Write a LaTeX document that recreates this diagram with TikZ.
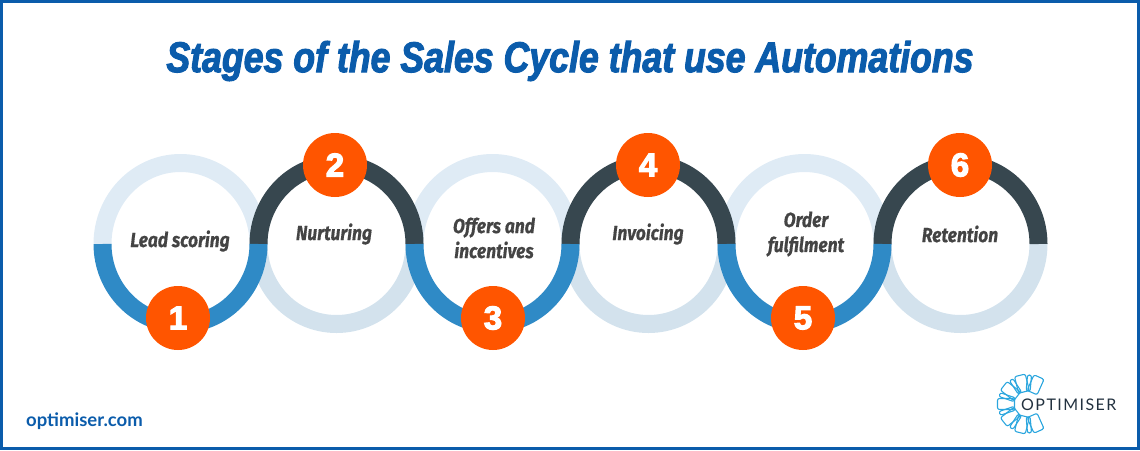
\documentclass[tikz,border=0pt]{standalone}
\usepackage{fontspec}
\usepackage{xcolor}
\usetikzlibrary{calc}
\setmainfont{Liberation Sans}
\newfontfamily\titlefont[FakeStretch=0.83,FakeBold=2.4]{Liberation Sans}
\newfontfamily\numfont[FakeBold=3.5]{Liberation Sans}
\newfontfamily\labelfont[FakeStretch=0.85,FakeBold=0.5]{Fira Sans}
\newfontfamily\webfont{Lato}
\newfontfamily\brandfont[LetterSpace=9]{Lato}
\definecolor{frameblue}{HTML}{0B5CAB}
\definecolor{lightring}{HTML}{DFEBF5}
\definecolor{paleblue}{HTML}{D3E2ED}
\definecolor{darkring}{HTML}{37474F}
\definecolor{midblue}{HTML}{2F8AC6}
\definecolor{badge}{HTML}{FF5500}
\definecolor{labeltext}{HTML}{444444}
\definecolor{petal}{HTML}{2BA6DE}
\definecolor{logotext}{HTML}{22313F}
\tikzset{
  ringarc/.style = {line width=18pt},
  numbadge/.style = {circle, fill=badge, text=white, minimum size=64pt, inner sep=0pt, font=\numfont\bfseries\fontsize{33}{33}\selectfont},
  stagelabel/.style = {text=labeltext, align=center, font=\labelfont\itshape\bfseries\fontsize{20.5}{25}\selectfont},
  petalbox/.style = {draw=petal, line width=1.1pt, rounded corners=2pt, minimum width=11pt, minimum height=17pt, inner sep=0pt}
}
\begin{document}
\begin{tikzpicture}[x=1pt, y=-1pt]
        \useasboundingbox (0,0) rectangle (1140,450);
        \draw[frameblue, line width=3pt] (1.5,1.5) rectangle (1138.5,448.5);
        \node[text=frameblue, font=\titlefont\bfseries\itshape\fontsize{43}{44}\selectfont] (title) at (570,61) {Stages of the Sales Cycle that use Automations};
        % pale halves first, they run under the strong ones
        \begin{scope}[ringarc]
            \draw[lightring] (102.5,244) arc[start angle=180, end angle=360, x radius=78, y radius=81];
            \draw[lightring] (414.5,244) arc[start angle=180, end angle=360, x radius=78, y radius=81];
            \draw[lightring] (726.5,244) arc[start angle=180, end angle=360, x radius=78, y radius=81];
            \draw[paleblue] (258.5,244) arc[start angle=180, end angle=0, x radius=78, y radius=80];
            \draw[paleblue] (570.5,244) arc[start angle=180, end angle=0, x radius=78, y radius=80];
            \draw[paleblue] (882.5,244) arc[start angle=180, end angle=0, x radius=78, y radius=80];
            \draw[darkring] (258.5,244) arc[start angle=180, end angle=360, x radius=78, y radius=80];
            \draw[darkring] (570.5,244) arc[start angle=180, end angle=360, x radius=78, y radius=80];
            \draw[darkring] (882.5,244) arc[start angle=180, end angle=360, x radius=78, y radius=80];
            \draw[midblue] (102.5,244) arc[start angle=180, end angle=0, x radius=78, y radius=80];
            \draw[midblue] (414.5,244) arc[start angle=180, end angle=0, x radius=78, y radius=80];
            \draw[midblue] (726.5,244) arc[start angle=180, end angle=0, x radius=78, y radius=80];
        \end{scope}
        \begin{scope}[every node/.style = {numbadge}]
            \node (one) at (178,318) {1};
            \node (two) at (335,165) {2};
            \node (three) at (493,318) {3};
            \node (four) at (648,165) {4};
            \node (five) at (803,318) {5};
            \node (six) at (960,165) {6};
        \end{scope}
        \begin{scope}[every node/.style = {stagelabel}]
            \node (lead) at (180,241) {Lead scoring};
            \node (nurture) at (334,234) {Nurturing};
            \node (offers) at (494,238) {Offers and\\incentives};
            \node (invoice) at (648,234) {Invoicing};
            \node (order) at (806,234) {Order\\fulfilment};
            \node (retain) at (960,234) {Retention};
        \end{scope}
        \node[text=frameblue, anchor=west, inner sep=0pt, font=\webfont\bfseries\fontsize{18.5}{18}\selectfont] (web) at (26,421) {optimiser.com};
        % logo
        \foreach \ang in {66,104,142,180,218,256,294}
            \node[petalbox, rotate=\ang+90] at ($(1027,404)+(\ang:21pt)$) {};
        \foreach \ang in {85,123,161,199,237,275}
            \node[petalbox, rotate=\ang+90, minimum width=4pt, minimum height=16pt] at ($(1027,404)+(\ang:21pt)$) {};
        \node[text=logotext, anchor=west, inner sep=0pt, font=\brandfont\fontsize{16}{19}\selectfont] (brand) at (1021,405) {OPTIMISER};
    \end{tikzpicture}
\end{document}
